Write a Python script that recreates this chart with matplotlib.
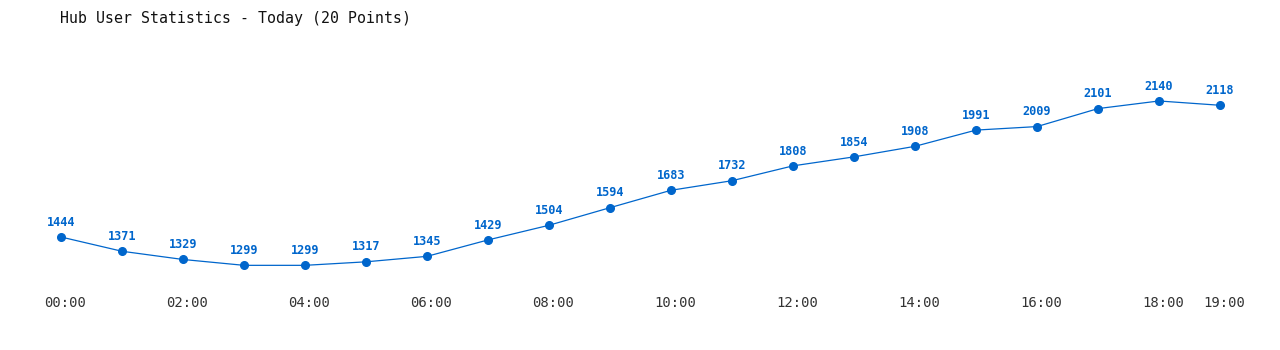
import matplotlib
matplotlib.use("Agg")
import matplotlib.pyplot as plt
import matplotlib.transforms as mtransforms

# ----------------------------------------------------
# DATA
# ----------------------------------------------------
hours = list(range(20))
users = [1444, 1371, 1329, 1299, 1299, 1317, 1345, 1429, 1504, 1594,
         1683, 1732, 1808, 1854, 1908, 1991, 2009, 2101, 2140, 2118]
tick_hours = [0, 2, 4, 6, 8, 10, 12, 14, 16, 18, 19]
tick_labels = ["%02d:00" % h for h in tick_hours]

title = "Hub User Statistics - Today (20 Points)"
blue = "#0066cc"
mono = "DejaVu Sans Mono"

# ----------------------------------------------------
# PLOT
# ----------------------------------------------------
fig = plt.figure(figsize=(12.8, 3.5), dpi=100)
ax = fig.add_axes([61 / 1280, 60 / 350, (1220 - 61) / 1280, 250 / 350])

ax.plot(hours, users, color=blue, linewidth=0.9, marker="o",
        markersize=5.5, zorder=3, clip_on=False)

for h, u in zip(hours, users):
    ax.annotate(str(u), (h, u), xytext=(0, 6), textcoords="offset points",
                ha="center", va="bottom", color=blue, fontsize=8.6,
                fontweight="bold", family=mono)

ax.set_xlim(0, 19)
ax.set_ylim(1172.8, 2452)
ax.set_xticks(tick_hours)
ax.set_xticklabels(tick_labels, family=mono, fontsize=10, color="#333333")
ax.tick_params(axis="x", length=0, pad=4.5)
ax.set_yticks([])
for s in ax.spines.values():
    s.set_visible(False)

# labels sit a few pixels right of their points in the original
shift = mtransforms.ScaledTranslation(4.5 / 100, 0, fig.dpi_scale_trans)
for lbl in ax.get_xticklabels():
    lbl.set_transform(lbl.get_transform() + shift)

fig.text(60 / 1280, 1 - 18 / 350, title, family=mono, fontsize=10.7,
         color="#111111", ha="left", va="center")

fig.savefig("out.png", dpi=100)
